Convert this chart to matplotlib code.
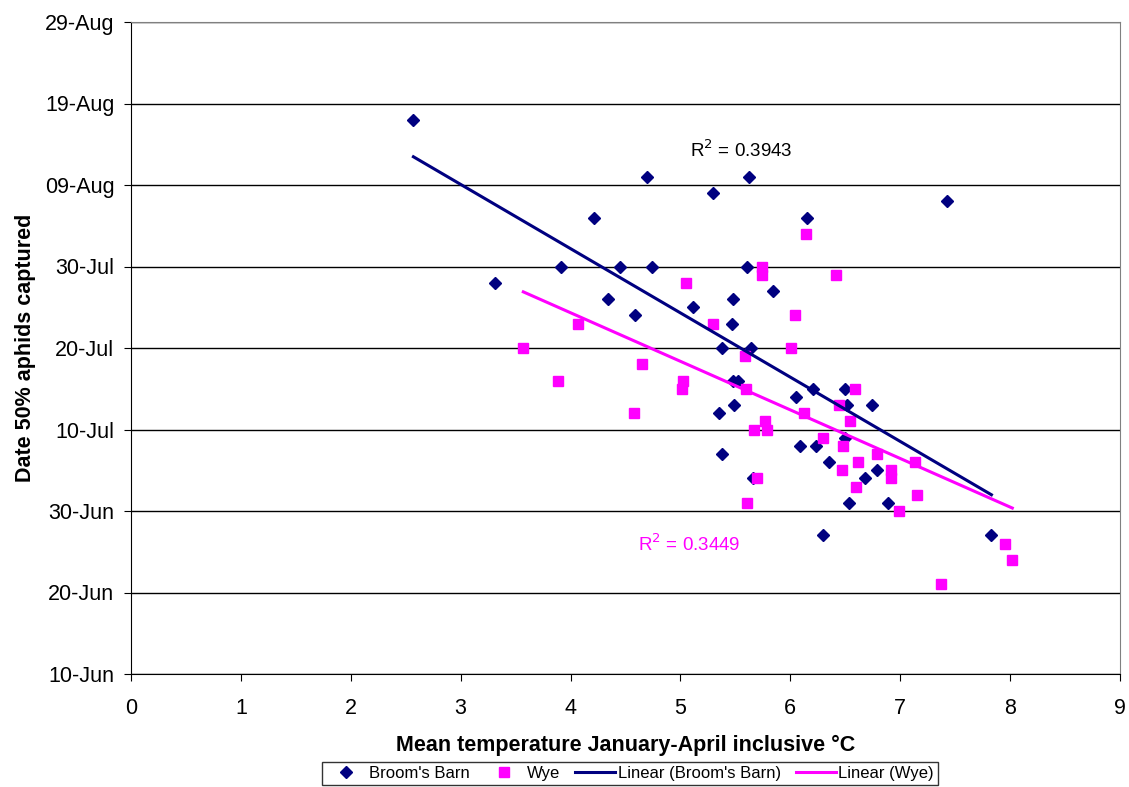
import numpy as np
import pandas as pd
import matplotlib
matplotlib.use("Agg")
import matplotlib.pyplot as plt
import matplotlib.dates as mdates

# Broom's Barn: mean Jan-Apr temperature and date of 50% capture
bb_temp = [2.57, 3.31, 3.91, 4.21, 4.45, 4.74, 5.61, 4.34, 4.59, 4.70,
           5.62, 5.30, 5.11, 5.48, 5.47, 5.38, 5.64, 5.84, 5.48, 5.52,
           6.05, 6.21, 5.49, 5.35, 5.38, 6.09, 6.23, 6.35, 5.66, 6.30,
           7.43, 6.15, 6.50, 6.52, 6.74, 6.50, 6.79, 6.68, 6.53, 6.89,
           7.83]
bb_date = ["17-Aug", "28-Jul", "30-Jul", "05-Aug", "30-Jul", "30-Jul",
           "30-Jul", "26-Jul", "24-Jul", "10-Aug", "10-Aug", "08-Aug",
           "25-Jul", "26-Jul", "23-Jul", "20-Jul", "20-Jul", "27-Jul",
           "16-Jul", "16-Jul", "14-Jul", "15-Jul", "13-Jul", "12-Jul",
           "07-Jul", "08-Jul", "08-Jul", "06-Jul", "04-Jul", "27-Jun",
           "07-Aug", "05-Aug", "15-Jul", "13-Jul", "13-Jul", "09-Jul",
           "05-Jul", "04-Jul", "01-Jul", "01-Jul", "27-Jun"]

# Wye
wye_temp = [3.57, 4.07, 3.89, 4.65, 4.58, 5.05, 5.02, 5.01, 5.30, 5.74,
            5.74, 5.59, 5.60, 6.01, 6.04, 6.14, 6.42, 6.12, 5.67, 5.77,
            5.79, 6.30, 5.70, 5.61, 6.44, 6.59, 6.54, 6.48, 6.47, 6.62,
            6.60, 6.79, 6.92, 6.92, 7.13, 7.15, 6.99, 7.95, 8.02, 7.37]
wye_date = ["20-Jul", "23-Jul", "16-Jul", "18-Jul", "12-Jul", "28-Jul",
            "16-Jul", "15-Jul", "23-Jul", "30-Jul", "29-Jul", "19-Jul",
            "15-Jul", "20-Jul", "24-Jul", "03-Aug", "29-Jul", "12-Jul",
            "10-Jul", "11-Jul", "10-Jul", "09-Jul", "04-Jul", "01-Jul",
            "13-Jul", "15-Jul", "11-Jul", "08-Jul", "05-Jul", "06-Jul",
            "03-Jul", "07-Jul", "05-Jul", "04-Jul", "06-Jul", "02-Jul",
            "30-Jun", "26-Jun", "24-Jun", "21-Jun"]

y_ticks = ["10-Jun", "20-Jun", "30-Jun", "10-Jul", "20-Jul", "30-Jul",
           "09-Aug", "19-Aug", "29-Aug"]
r2_bb = "0.3943"
r2_wye = "0.3449"

NAVY = "#000080"
PINK = "#FF00FF"


def to_num(dates):
    d = pd.to_datetime(["2001-" + s for s in dates], format="%Y-%d-%b")
    return mdates.date2num(d)


def trend(x, y):
    k, b = np.polyfit(x, y, 1)
    xs = np.array([min(x), max(x)])
    return xs, k * xs + b


plt.rcParams["font.family"] = ["Liberation Sans", "DejaVu Sans"]

fig = plt.figure(figsize=(11.29, 7.87), dpi=100)
ax = fig.add_axes([131 / 1129, 1 - 674 / 787, 989 / 1129, 652 / 787])

bb_y = to_num(bb_date)
wye_y = to_num(wye_date)
ticks = to_num(y_ticks)

ax.plot(bb_temp, bb_y, "D", color=NAVY, ms=6.5, ls="none",
        label="Broom's Barn", zorder=3)
ax.plot(wye_temp, wye_y, "s", color=PINK, ms=7.5, ls="none",
        label="Wye", zorder=3)

tx, ty = trend(np.array(bb_temp), bb_y)
ax.plot(tx, ty, color=NAVY, lw=2.2, label="Linear (Broom's Barn)", zorder=4)
tx, ty = trend(np.array(wye_temp), wye_y)
ax.plot(tx, ty, color=PINK, lw=2.2, label="Linear (Wye)", zorder=4)

ax.text(5.09, ticks[6] + 3.4, r"R$^2$ = " + r2_bb, fontsize=13.5,
        color="black")
ax.text(4.61, ticks[2] - 4.9, r"R$^2$ = " + r2_wye, fontsize=13.5,
        color=PINK)

ax.set_xlim(0, 9)
ax.set_ylim(ticks[0], ticks[-1])
ax.set_xticks(range(10))
ax.set_yticks(ticks)
ax.yaxis.set_major_formatter(mdates.DateFormatter("%d-%b"))
ax.grid(axis="y", color="black", lw=1)
ax.set_axisbelow(True)
for s in ["top", "right"]:
    ax.spines[s].set_color("#808080")
for s in ["left", "bottom"]:
    ax.spines[s].set_color("black")
ax.tick_params(labelsize=15.5, length=5, direction="out")
ax.tick_params(axis="x", pad=12)
ax.tick_params(axis="y", pad=7)

ax.set_xlabel("Mean temperature January-April inclusive °C",
              fontsize=15.5, fontweight="bold", labelpad=12)
ax.set_ylabel("Date 50% aphids captured", fontsize=15.5, fontweight="bold",
              labelpad=6)

handles, labels = ax.get_legend_handles_labels()
leg = fig.legend(handles, labels, loc="upper center", ncol=4,
                 bbox_to_anchor=(630 / 1129, 1 - 762 / 787), fontsize=12,
                 frameon=True, fancybox=False, edgecolor="black",
                 handlelength=2.4, handletextpad=0.15, columnspacing=0.9,
                 numpoints=1, borderpad=0.25, borderaxespad=0)
leg.get_frame().set_linewidth(1)

fig.savefig("out.png", dpi=100)
